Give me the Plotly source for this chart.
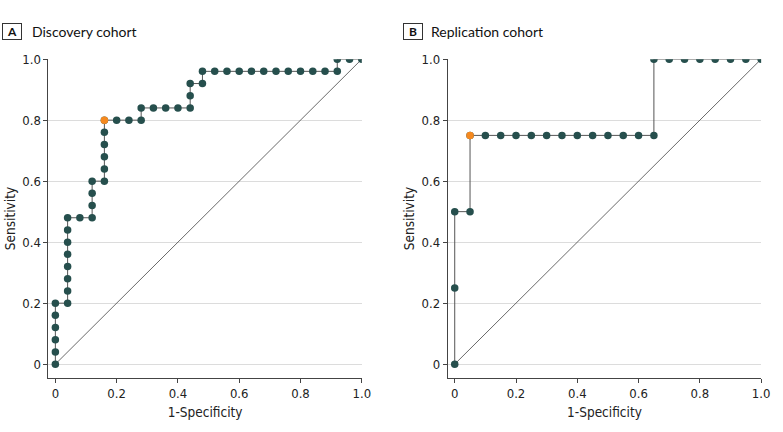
import plotly.graph_objects as go

# Panel A: Discovery cohort
a_fpr = [0, 0, 0, 0, 0, 0, 0.04, 0.04, 0.04, 0.04, 0.04, 0.04, 0.04, 0.04, 0.08, 0.12, 0.12, 0.12, 0.12,
         0.16, 0.16, 0.16, 0.16, 0.16, 0.16, 0.20, 0.24, 0.28, 0.28, 0.32, 0.36, 0.40, 0.44, 0.44, 0.44,
         0.48, 0.48, 0.52, 0.56, 0.60, 0.64, 0.68, 0.72, 0.76, 0.80, 0.84, 0.88, 0.92, 0.92, 0.96, 1.0]
a_tpr = [0, 0.04, 0.08, 0.12, 0.16, 0.20, 0.20, 0.24, 0.28, 0.32, 0.36, 0.40, 0.44, 0.48, 0.48, 0.48, 0.52, 0.56, 0.60,
         0.60, 0.64, 0.68, 0.72, 0.76, 0.80, 0.80, 0.80, 0.80, 0.84, 0.84, 0.84, 0.84, 0.84, 0.88, 0.92,
         0.92, 0.96, 0.96, 0.96, 0.96, 0.96, 0.96, 0.96, 0.96, 0.96, 0.96, 0.96, 0.96, 1.0, 1.0, 1.0]
a_best = (0.16, 0.80)

# Panel B: Replication cohort
b_fpr = [0, 0, 0, 0.05, 0.05, 0.10, 0.15, 0.20, 0.25, 0.30, 0.35, 0.40, 0.45, 0.50, 0.55, 0.60, 0.65,
         0.65, 0.70, 0.75, 0.80, 0.85, 0.90, 0.95, 1.0]
b_tpr = [0, 0.25, 0.50, 0.50, 0.75, 0.75, 0.75, 0.75, 0.75, 0.75, 0.75, 0.75, 0.75, 0.75, 0.75, 0.75, 0.75,
         1.0, 1.0, 1.0, 1.0, 1.0, 1.0, 1.0, 1.0]
b_best = (0.05, 0.75)

titles = ["Discovery cohort", "Replication cohort"]
panel_letters = ["A", "B"]
tick_vals = [0, 0.2, 0.4, 0.6, 0.8, 1.0]
tick_text = ["0", "0.2", "0.4", "0.6", "0.8", "1.0"]

TEAL = "#264f4d"
ORANGE = "#f5891f"
LINE = "#555555"
FONT = "DejaVu Sans Condensed"
TFONT = "Lato"

fig = go.Figure()
panels = [(a_fpr, a_tpr, a_best, "x", "y"), (b_fpr, b_tpr, b_best, "x2", "y2")]
for fpr, tpr, best, xa, ya in panels:
    fig.add_trace(go.Scatter(x=[0, 1], y=[0, 1], mode="lines", line=dict(color="#444444", width=0.8),
                             xaxis=xa, yaxis=ya, showlegend=False, hoverinfo="skip"))
    fig.add_trace(go.Scatter(x=fpr, y=tpr, mode="lines+markers",
                             line=dict(color=LINE, width=1),
                             marker=dict(color=TEAL, size=7.5),
                             xaxis=xa, yaxis=ya, showlegend=False))
    fig.add_trace(go.Scatter(x=[best[0]], y=[best[1]], mode="markers",
                             marker=dict(color=ORANGE, size=7.5),
                             xaxis=xa, yaxis=ya, showlegend=False))

W, H = 783, 432
xdoms = [[49 / W, 366 / W], [453 / W, 770 / W]]
ydom = [1 - 377 / H, 1 - 53 / H]
xr = [-0.0226, 1.0]
yr = [-0.045, 1.0]

axcommon = dict(showline=True, linecolor="#444444", linewidth=1, ticks="outside", ticklen=4,
                tickcolor="#444444", tickfont=dict(family=FONT, size=13, color="#222222"),
                zeroline=False)
layout = dict(width=W, height=H, margin=dict(l=0, r=0, t=0, b=0),
              plot_bgcolor="white", paper_bgcolor="white", showlegend=False)
for i, (xn, yn) in enumerate([("xaxis", "yaxis"), ("xaxis2", "yaxis2")]):
    layout[xn] = dict(domain=xdoms[i], range=xr, tickvals=tick_vals, ticktext=tick_text,
                      showgrid=False, anchor="y" if i == 0 else "y2",
                      title=dict(text="1-Specificity", font=dict(family=FONT, size=13.5, color="#222222"),
                                 standoff=7),
                      **axcommon)
    layout[yn] = dict(domain=ydom, range=yr, tickvals=tick_vals, ticktext=tick_text,
                      showgrid=True, gridcolor="#dcdcdc", gridwidth=1,
                      anchor="x" if i == 0 else "x2",
                      title=dict(text="Sensitivity", font=dict(family=FONT, size=13.5, color="#222222"),
                                 standoff=3),
                      **axcommon)
fig.update_layout(**layout)

box_x = [12.5 / W, 417.5 / W]
text_x = [30 / W, 434 / W]
for i in range(2):
    fig.add_annotation(x=box_x[i], y=1 - 24.5 / H, xref="paper", yref="paper", showarrow=False,
                       text="<b>%s</b>" % panel_letters[i], font=dict(family=TFONT, size=12, color="#111111"),
                       bordercolor="#333333", borderwidth=1, borderpad=1.5, bgcolor="white",
                       width=15, height=12, xanchor="center", yanchor="middle")
    fig.add_annotation(x=text_x[i], y=1 - 24.5 / H, xref="paper", yref="paper", showarrow=False,
                       text=titles[i], font=dict(family=TFONT, size=14, color="#111111"),
                       xanchor="left", yanchor="middle")

fig.write_html("out.html", config={"displayModeBar": False},
               post_script="document.body.style.margin='0';")
